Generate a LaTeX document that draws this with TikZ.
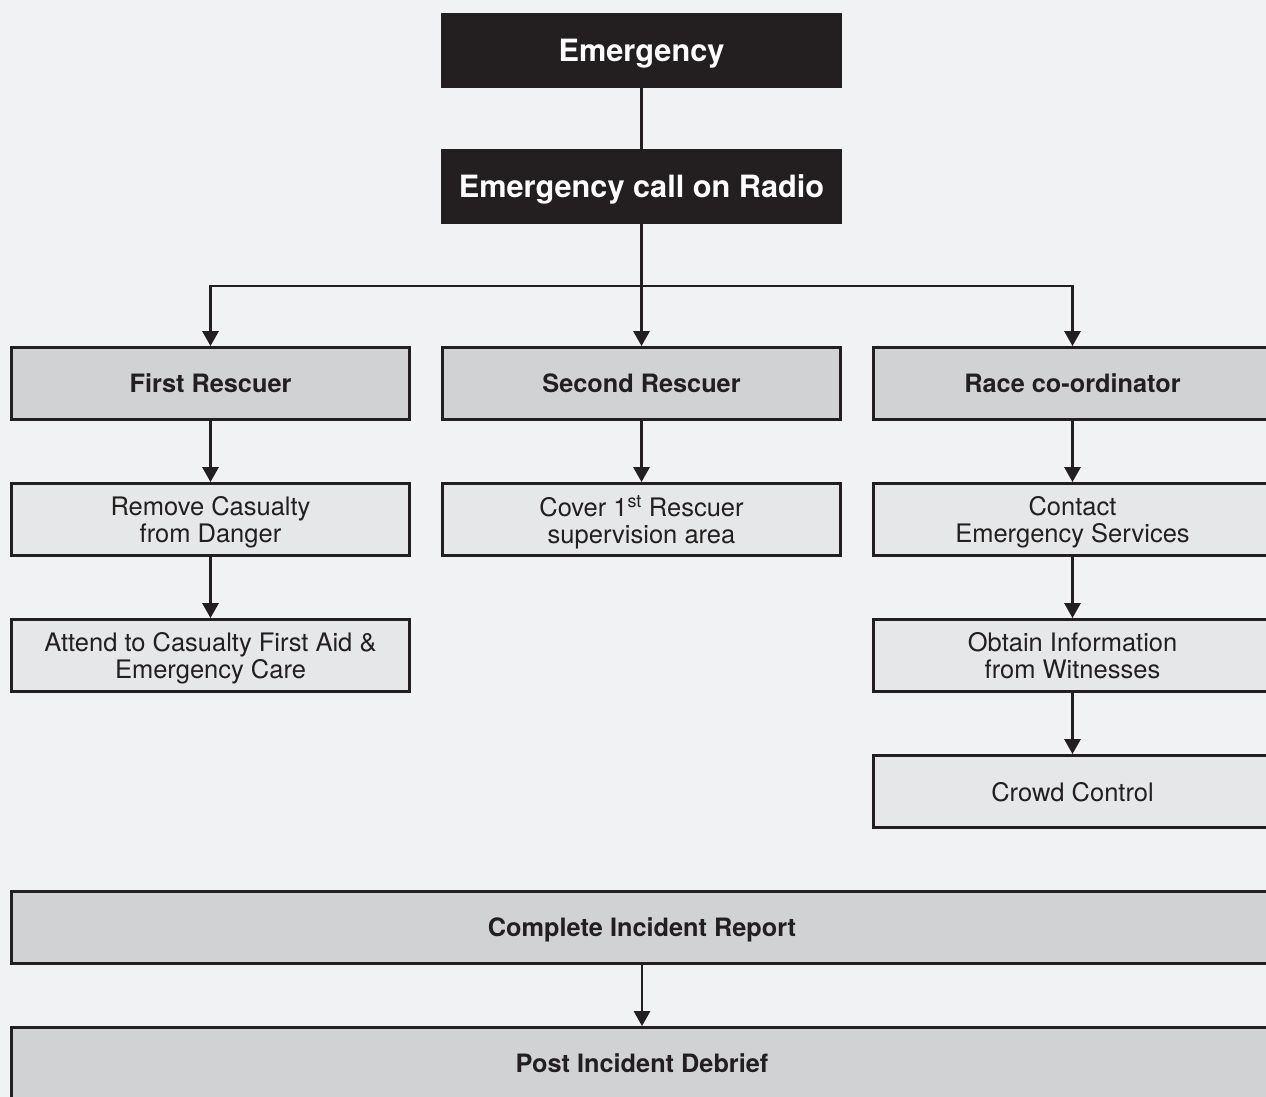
\documentclass[tikz,border=0pt]{standalone}
\usepackage{fontspec}
\setmainfont{TeX Gyre Heros}
\usetikzlibrary{positioning,arrows.meta}

\definecolor{bgcol}{HTML}{F1F2F4}
\definecolor{inkcol}{HTML}{231F20}
\definecolor{midcol}{HTML}{D1D2D4}
\definecolor{lightcol}{HTML}{E6E7E8}

\tikzset{
    headbox/.style={fill=inkcol, text=white, minimum width=401pt, minimum height=75pt,
        inner sep=0pt, text depth=-4pt, font=\fontsize{30.7}{32}\selectfont\bfseries},
    rolebox/.style={draw=inkcol, fill=midcol, text=inkcol, line width=2.8pt,
        minimum width=398pt, minimum height=72pt, inner sep=0pt, text depth=-3pt,
        font=\fontsize{25.3}{27}\selectfont\bfseries},
    taskbox/.style={draw=inkcol, fill=lightcol, text=inkcol, line width=2.8pt,
        minimum width=398pt, minimum height=72pt, inner sep=0pt, align=center,
        text depth=-3pt, font=\fontsize{25.5}{27}\selectfont},
    widebox/.style={rolebox, minimum width=1261pt},
    link/.style={draw=inkcol, line width=2.8pt},
    arr/.style={link, -{Triangle[width=16pt,length=15pt]}}
}

\begin{document}
\begin{tikzpicture}[x=1pt,y=-1pt]
    % Background
    \fill[bgcol] (0,0) rectangle (1266,1097);
    \useasboundingbox (0,0) rectangle (1266,1097);
    \clip (0,0) rectangle (1266,1097);

    % Alarm
    \node[headbox] (emerg) at (641.5,50.5) {Emergency};
    \node[headbox] (radio) at (641.5,186.5) {Emergency call on Radio};
    \draw[link] (emerg) -- (radio);

    % Roles
    \node[rolebox] (first) at (210.5,383.5) {First Rescuer};
    \node[rolebox] (second) at (641.5,383.5) {Second Rescuer};
    \node[rolebox] (race) at (1072.5,383.5) {Race co-ordinator};

    \coordinate (split) at (641.5,286);
    \draw[link] (radio.south) -- (split);
    \draw[arr] (split) -- (second.north);
    \draw[arr] (split) -| (first.north);
    \draw[arr] (split) -| (race.north);

    % First Rescuer tasks
    \node[taskbox] (remove) at (210.5,519.5) {Remove Casualty\\from Danger};
    \node[taskbox] (attend) at (210.5,655.5) {Attend to Casualty First Aid \&\\Emergency Care};
    \draw[arr] (first) -- (remove);
    \draw[arr] (remove) -- (attend);

    % Second Rescuer tasks
    \node[taskbox] (cover) at (641.5,519.5) {Cover 1\textsuperscript{st} Rescuer\\supervision area};
    \draw[arr] (second) -- (cover);

    % Race co-ordinator tasks
    \node[taskbox] (contact) at (1072.5,519.5) {Contact\\Emergency Services};
    \node[taskbox] (witness) at (1072.5,655.5) {Obtain Information\\from Witnesses};
    \node[taskbox] (crowd) at (1072.5,791.5) {Crowd Control};
    \draw[arr] (race) -- (contact);
    \draw[arr] (contact) -- (witness);
    \draw[arr] (witness) -- (crowd);

    % After the incident
    \node[widebox] (report) at (642,927.5) {Complete Incident Report};
    \node[widebox] (debrief) at (642,1063.5) {Post Incident Debrief};
    \draw[arr] (report) -- (debrief);
\end{tikzpicture}
\end{document}
